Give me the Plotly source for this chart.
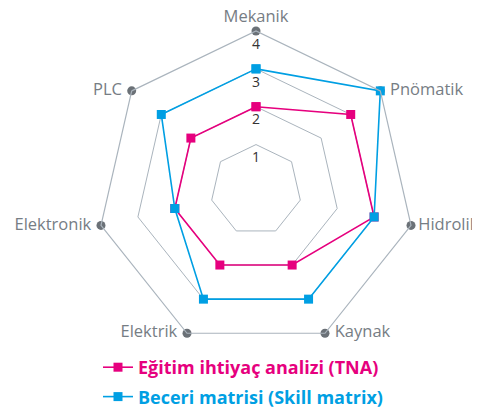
import plotly.graph_objects as go

categories = ["Mekanik", "Pnömatik", "Hidrolik", "Kaynak", "Elektrik", "Elektronik", "PLC"]
label_sides = ["top center", "middle right", "middle right", "middle right",
               "middle left", "middle left", "middle left"]
tna_values = [2, 3, 3, 2, 2, 2, 2]
skill_values = [3, 4, 3, 3, 3, 2, 3]
tick_values = [1, 2, 3, 4]
tick_labels = ["1", "2", "3", "4"]
outer_level = 4

PINK = "#e6007e"
BLUE = "#009fe3"
GRID = "#aab4bd"
DOT = "#6b7177"
LABEL = "#767d84"
FONT = "Open Sans"

fig = go.Figure()

# outer vertex dots
fig.add_trace(go.Scatterpolar(
    r=[outer_level] * len(categories), theta=categories, mode="markers",
    marker=dict(color=DOT, size=9, symbol="circle"), showlegend=False, hoverinfo="skip"))

# category labels next to the dots
fig.add_trace(go.Scatterpolar(
    r=[outer_level] * len(categories), theta=categories, mode="markers+text",
    text=categories, textposition=label_sides,
    marker=dict(size=[6, 14, 10, 14, 14, 14, 14], opacity=0),
    textfont=dict(family=FONT, size=16.5, color=LABEL),
    showlegend=False, hoverinfo="skip", cliponaxis=False))

# tick labels along the Mekanik axis
fig.add_trace(go.Scatterpolar(
    r=tick_values, theta=[categories[0]] * len(tick_values), mode="markers+text",
    text=tick_labels, textposition="bottom center",
    marker=dict(size=10, opacity=0),
    textfont=dict(family=FONT, size=14, color="#333333"),
    showlegend=False, hoverinfo="skip"))

fig.add_trace(go.Scatterpolar(
    r=tna_values + tna_values[:1], theta=categories + categories[:1],
    mode="lines+markers",
    name="<b><span style='color:%s'>Eğitim ihtiyaç analizi (TNA)</span></b>" % PINK,
    legendgroup="tna",
    line=dict(color=PINK, width=1.6),
    marker=dict(color=PINK, size=9, symbol="square")))

fig.add_trace(go.Scatterpolar(
    r=skill_values + skill_values[:1], theta=categories + categories[:1],
    mode="lines+markers",
    name="<b><span style='color:%s'>Beceri matrisi (Skill matrix)</span></b>" % BLUE,
    legendgroup="skill",
    line=dict(color=BLUE, width=1.6),
    marker=dict(color=BLUE, size=9, symbol="square")))

fig.update_layout(
    width=480, height=419,
    margin=dict(l=0, r=0, t=0, b=0),
    paper_bgcolor="white", plot_bgcolor="white",
    font=dict(family=FONT),
    polar=dict(
        domain=dict(x=[89 / 480, 407 / 480], y=[1 - 341 / 419, 1 - 23 / 419]),
        bgcolor="white",
        gridshape="linear",
        radialaxis=dict(range=[-0.2, 4], tickvals=tick_values, showticklabels=False,
                        ticks="", showline=False, gridcolor=GRID, gridwidth=1.2,
                        angle=90),
        angularaxis=dict(rotation=90, direction="clockwise", showgrid=False,
                         showline=True, linecolor=GRID, linewidth=1.2,
                         ticks="", showticklabels=False),
    ),
    legend=dict(x=90 / 480, y=1 - 341 / 419, xanchor="left", yanchor="top",
                font=dict(family=FONT, size=18), tracegroupgap=3,
                bgcolor="rgba(0,0,0,0)"),
)

fig.write_html("out.html")
